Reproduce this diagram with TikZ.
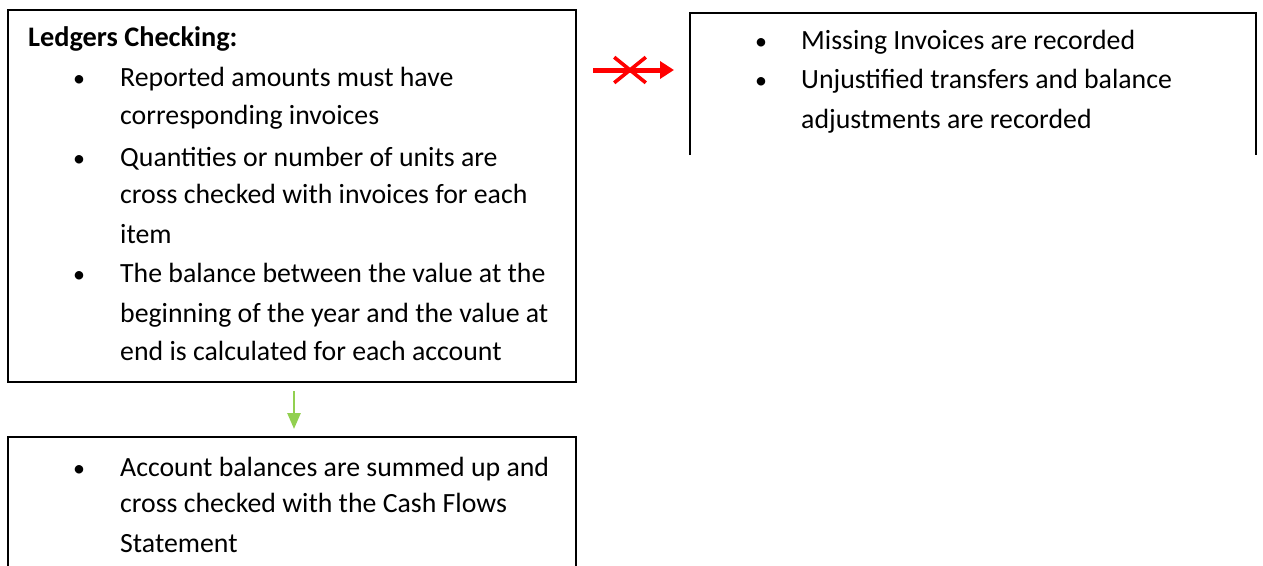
\documentclass[tikz,border=0pt]{standalone}
\usepackage{fontspec}
\setmainfont{Carlito}
\usetikzlibrary{arrows.meta,shapes.misc}
\definecolor{flowgreen}{RGB}{146,208,80}
\begin{document}
\begin{tikzpicture}[x=1pt,y=-1pt,
  frame/.style={draw=black, line width=2pt},
  area/.style={inner sep=0pt, outer sep=0pt},
  line/.style={anchor=base west, inner sep=0pt, font=\fontsize{27.8}{33}\selectfont},
  head/.style={line, font=\fontsize{28.3}{33}\selectfont\bfseries},
  dot/.style={anchor=base, inner sep=0pt, font=\fontsize{24}{30}\selectfont},
  vetoarrow/.style={draw=red, line width=5pt, -{Triangle[length=14pt,width=17pt]}},
  xmark/.style={draw=red, cross out, line width=3.6pt, minimum width=28pt, minimum height=22pt, inner sep=0pt},
  flowarrow/.style={draw=flowgreen, line width=2.7pt, -{Triangle[length=16pt,width=13pt]}}
]
\useasboundingbox (0,0) rectangle (1263,565);

% ledger checking box
\node[frame, area, minimum width=568pt, minimum height=372pt] (ledger) at (292,196) {};
% findings box (open at the bottom)
\node[area, minimum width=566pt, minimum height=142pt] (flags) at (1256/2+690/2,13+71) {};
\draw[frame] (flags.south west) -- (flags.north west) -- (flags.north east) -- (flags.south east);
% balances box (runs off the bottom edge)
\node[area, minimum width=568pt, minimum height=140pt] (balances) at (292,437+70) {};
\draw[frame] (balances.south west) -- (balances.north west) -- (balances.north east) -- (balances.south east);

% texts of the ledger checking box
\node[head] (t0) at (28,46) {Ledgers Checking:};
\node[dot] (b1) at (79,86) {•};
\node[line] (t1) at (120,86) {Reported amounts must have};
\node[line] (t2) at (120,124) {corresponding invoices};
\node[dot] (b2) at (79,166) {•};
\node[line] (t3) at (120,166) {Quantities or number of units are};
\node[line] (t4) at (120,203) {cross checked with invoices for each};
\node[line] (t5) at (120,243) {item};
\node[dot] (b3) at (79,282) {•};
\node[line] (t6) at (120,282) {The balance between the value at the};
\node[line] (t7) at (120,322) {beginning of the year and the value at};
\node[line] (t8) at (120,360) {end is calculated for each account};

% texts of the findings box
\node[dot] (b4) at (761,49) {•};
\node[line] (f1) at (801,49) {Missing Invoices are recorded};
\node[dot] (b5) at (761,88) {•};
\node[line] (f2) at (801,88) {Unjustified transfers and balance};
\node[line] (f3) at (801,128) {adjustments are recorded};

% texts of the balances box
\node[dot] (b6) at (79,476) {•};
\node[line] (s1) at (120,476) {Account balances are summed up and};
\node[line] (s2) at (120,512) {cross checked with the Cash Flows};
\node[line] (s3) at (120,552) {Statement};

% connectors
\coordinate (rowA) at (0,70);
\coordinate (colB) at (294,0);
\draw[vetoarrow, shorten <=17pt, shorten >=16pt] (ledger.east |- rowA) -- (flags.west |- rowA);
\node[xmark] (veto) at (630,70) {};
\draw[flowarrow, shorten <=9pt, shorten >=8pt] (colB |- ledger.south) -- (colB |- balances.north);
\end{tikzpicture}
\end{document}
